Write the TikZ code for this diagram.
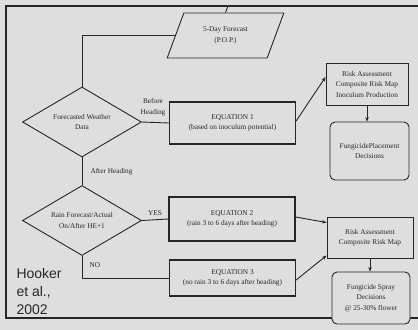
\documentclass[tikz,border=0pt]{standalone}
\usepackage{fontspec}
\setmainfont{Liberation Serif}
\newfontfamily\hookerfont{Liberation Sans}
\usetikzlibrary{shapes.geometric,arrows.meta,calc}
\definecolor{bgc}{HTML}{DEDEDE}
\definecolor{ink}{HTML}{262626}
\definecolor{frm}{HTML}{262626}
\tikzset{
  every node/.style={text=ink},
  dtxt/.style={font=\fontsize{7.3}{10.5}\selectfont, align=center},
  para/.style={dtxt, draw=ink, fill=bgc, trapezium, trapezium left angle=62, trapezium right angle=118,
    trapezium stretches=true, minimum width=117pt, minimum height=45pt, inner sep=0pt, line width=0.9pt},
  dia/.style={dtxt, draw=ink, fill=bgc, diamond, aspect=1.7, minimum width=119pt, minimum height=70pt,
    inner sep=0pt, line width=0.9pt},
  eqbox/.style={dtxt, draw=ink, fill=bgc, rectangle, minimum width=126pt, inner sep=0pt, line width=1.3pt},
  riskbox/.style={dtxt, draw=ink, fill=bgc, rectangle, inner sep=0pt, line width=0.9pt},
  fungbox/.style={dtxt, draw=ink, fill=bgc, rectangle, rounded corners=5pt, inner sep=0pt, line width=0.9pt},
  lbl/.style={dtxt},
  conn/.style={draw=ink, line width=0.9pt},
  arr/.style={conn, -{Stealth[length=4.5pt,width=3.5pt]}},
}
\begin{document}
\begin{tikzpicture}[x=1pt,y=-1pt]
\useasboundingbox (0,0) rectangle (418,330);
\fill[bgc] (0,0) rectangle (418,330);
% frame
\draw[frm, line width=2.4pt] (6,6) rectangle (430,318);
\coordinate (ftop) at (228,6);

% nodes
\node[para] (par) at (225.5,35.5) {5-Day Forecast\\(P.O.P.)};
\node[dia] (d1) at (82,122) {Forecasted Weather\\Data};
\node[dia] (d2) at (82,220.5) {Rain Forecast/Actual\\On/After HE+1};
\node[eqbox, minimum height=42pt] (eq1) at (232.5,123) {EQUATION 1\\(based on inoculum potential)};
\node[eqbox, minimum height=44pt] (eq2) at (232,219) {EQUATION 2\\(rain 3 to 6 days after heading)};
\node[eqbox, minimum height=36pt] (eq3) at (232.5,278) {EQUATION 3\\(no rain 3 to 6 days after heading)};
\node[riskbox, minimum width=82pt, minimum height=42pt] (risk1) at (367,84)
  {Risk Assessment\\Composite Risk Map\\Inoculum Production};
\node[fungbox, minimum width=79pt, minimum height=58pt] (fung1) at (369.5,151)
  {FungicidePlacement\\Decisions};
\node[riskbox, minimum width=86pt, minimum height=41pt] (risk2) at (370,237.5)
  {Risk Assessment\\Composite Risk Map};
\node[fungbox, minimum width=78pt, minimum height=52pt] (fung2) at (371,298)
  {Fungicide Spray\\Decisions\\@ 25-30\% flower};

% labels
\node[lbl] (lbefore) at (153,107) {Before\\Heading};
\node[lbl, anchor=west] (lafter) at (87,172) {After Heading};
\node[lbl] (lyes) at (155,213) {YES};
\node[lbl, anchor=west] (lno) at (86,265) {NO};
\node[anchor=west, align=left, font=\hookerfont\fontsize{14}{18}\selectfont, text=ink] (cite) at (13,291)
  {Hooker\\et al.,\\2002};

% connectors
\draw[conn] (par.north) -- (ftop);
\draw[conn] (par.west) -| (d1.north);
\draw[conn] (d1.east) -- (eq1.west);
\draw[conn] (d1.south) -- (d2.north);
\draw[conn] (d2.east) -- (eq2.west);
\draw[conn] (d2.south) |- (eq3.west);
\draw[arr] ([yshift=2pt]eq1.east) -- ([yshift=7pt]risk1.west);
\draw[arr] (risk1.south) -- (risk1.south |- fung1.north);
\draw[arr] ([yshift=2pt]eq2.east) -- ([yshift=15pt]risk2.west);
\draw[arr] ([yshift=-2pt]eq3.east) -- ([yshift=-18pt]risk2.west);
\draw[arr] (risk2.south) -- (risk2.south |- fung2.north);
\end{tikzpicture}
\end{document}
